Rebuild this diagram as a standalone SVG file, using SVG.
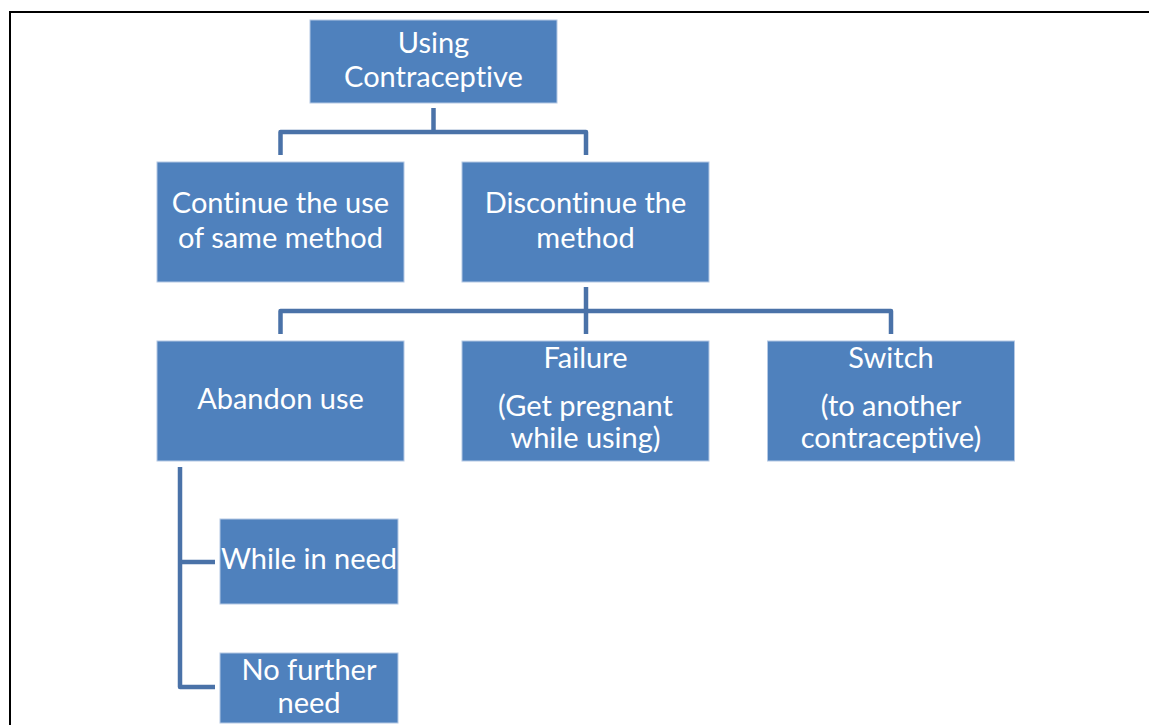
<svg xmlns="http://www.w3.org/2000/svg" width="1149" height="725" viewBox="0 0 1149 725">
<style>
.box{fill:#4F81BD;stroke:#B4C8E4;stroke-width:1}
.t{font-family:Lato,"Open Sans",sans-serif;font-size:29px;fill:#ffffff;text-anchor:middle;font-variant-ligatures:none}
.c{fill:none;stroke:#4A72A8;stroke-width:4.5;stroke-linejoin:round}
</style>
<rect x="0" y="0" width="1149" height="725" fill="#ffffff"/>
<path d="M10,725 V12 H1149" fill="none" stroke="#000000" stroke-width="2"/>
<g id="connectors">
<path class="c" d="M433.5,108 V132"/>
<path class="c" d="M280.5,155 V132 H586 V155"/>
<path class="c" d="M586,287 V334"/>
<path class="c" d="M280.5,334 V311 H891 V334"/>
<path class="c" d="M180,467 V687 H215"/>
<path class="c" d="M180,562 H215"/>
</g>
<g id="using">
<rect class="box" x="310" y="20" width="247" height="83"/>
<text class="t" x="433.5" y="53">Using</text>
<text class="t" x="433.5" y="87">Contraceptive</text>
</g>
<g id="continue">
<rect class="box" x="157" y="162" width="247" height="120"/>
<text class="t" x="280.5" y="213">Continue the use</text>
<text class="t" x="280.5" y="248">of same method</text>
</g>
<g id="discontinue">
<rect class="box" x="462" y="162" width="247" height="120"/>
<text class="t" x="585.5" y="213">Discontinue the</text>
<text class="t" x="585.5" y="248">method</text>
</g>
<g id="abandon">
<rect class="box" x="157" y="341" width="247" height="120"/>
<text class="t" x="280.5" y="409">Abandon use</text>
</g>
<g id="failure">
<rect class="box" x="462" y="341" width="247" height="120"/>
<text class="t" x="585.5" y="368">Failure</text>
<text class="t" x="585.5" y="416">(Get pregnant</text>
<text class="t" x="585.5" y="448">while using)</text>
</g>
<g id="switch">
<rect class="box" x="767.5" y="341" width="247" height="120"/>
<text class="t" x="891" y="368">Switch</text>
<text class="t" x="891" y="416">(to another</text>
<text class="t" x="891" y="448">contraceptive)</text>
</g>
<g id="while">
<rect class="box" x="220" y="519" width="178" height="85"/>
<text class="t" x="309" y="569">While in need</text>
</g>
<g id="nofurther">
<rect class="box" x="220" y="653" width="178" height="70"/>
<text class="t" x="309" y="680">No further</text>
<text class="t" x="309" y="713">need</text>
</g>
</svg>
